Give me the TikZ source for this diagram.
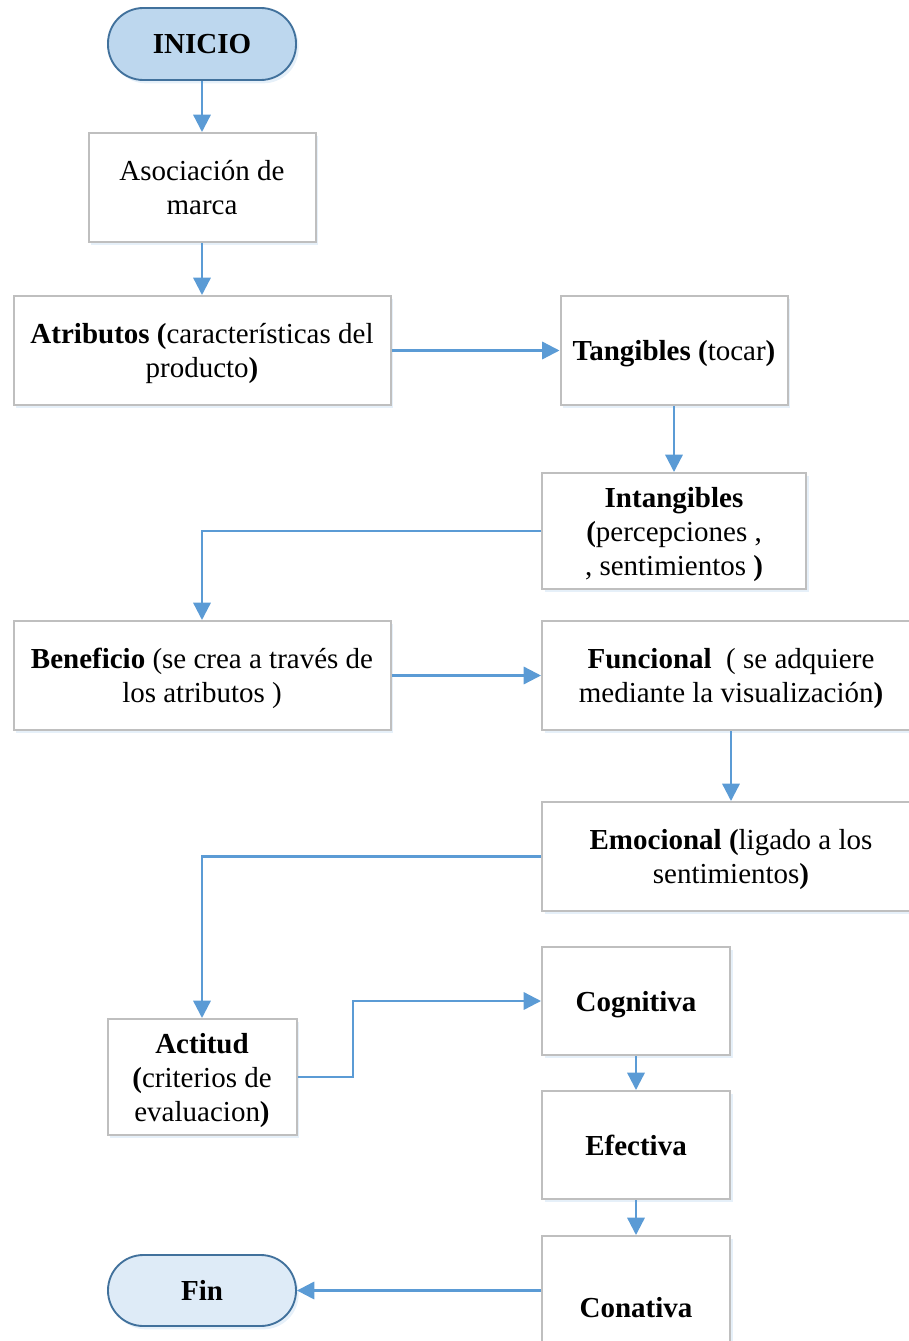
\documentclass[tikz,border=0pt]{standalone}
\usepackage{fontspec}
\setmainfont{Liberation Serif}
\usetikzlibrary{arrows.meta,shadows}
\definecolor{boxline}{HTML}{BFBFBF}
\definecolor{flow}{HTML}{5B9BD5}
\definecolor{termline}{HTML}{41719C}
\definecolor{startfill}{HTML}{BDD7EE}
\definecolor{endfill}{HTML}{DEEBF7}
\definecolor{shade}{HTML}{9DC3E6}
\begin{document}
\begin{tikzpicture}[x=0.75pt,y=-0.75pt,
  font=\fontsize{21.75}{25.5}\selectfont,
  stepbox/.style={draw=boxline, line width=1.5pt, fill=white, align=center,
    inner sep=0pt, text depth=0pt,
    drop shadow={shadow xshift=2pt, shadow yshift=-2.5pt, fill=shade, opacity=0.25}},
  term/.style={draw=termline, line width=1.4pt, align=center, inner sep=0pt,
    text depth=0pt, minimum width=141pt, rounded corners=26.5pt,
    drop shadow={shadow xshift=2pt, shadow yshift=-2.5pt, fill=shade, opacity=0.25}},
  flowline/.style={draw=flow, line width=1.75pt,
    -{Triangle[length=13pt,width=13pt]}}]

\useasboundingbox (0,0) rectangle (909,1341);
\clip (0,0) rectangle (909,1341);

% terminals
\node[term, fill=startfill, minimum height=54pt] (ini) at (202,44) {\textbf{INICIO}};
\node[term, fill=endfill, minimum height=53.25pt] (fin) at (202,1290.5) {\textbf{Fin}};

% process steps
\node[stepbox, minimum width=170.25pt, minimum height=81.75pt] (aso) at (202,187.5)
  {Asociación de\\marca};
\node[stepbox, minimum width=282.75pt, minimum height=81.75pt] (atr) at (202,350.5)
  {\textbf{Atributos (}características del\\producto\textbf{)}};
\node[stepbox, minimum width=170.25pt, minimum height=81.75pt] (tan) at (674,350.5)
  {\textbf{Tangibles (}tocar\textbf{)}};
\node[stepbox, minimum width=198pt, minimum height=87pt] (int) at (674,531)
  {\textbf{Intangibles}\\\textbf{(}percepciones ,\\, sentimientos \textbf{)}};
\node[stepbox, minimum width=282.75pt, minimum height=81.75pt] (ben) at (202,675.5)
  {\textbf{Beneficio} (se crea a través de\\los atributos )};
\node[stepbox, minimum width=283.5pt, minimum height=81.75pt] (fun) at (731,675.5)
  {\textbf{Funcional}\ \ ( se adquiere\\mediante la visualización\textbf{)}};
\node[stepbox, minimum width=283.5pt, minimum height=81.75pt] (emo) at (731,856.5)
  {\textbf{Emocional (}ligado a los\\sentimientos\textbf{)}};
\node[stepbox, minimum width=141.75pt, minimum height=87pt] (act) at (202,1077)
  {\textbf{Actitud}\\\textbf{(}criterios de\\evaluacion\textbf{)}};
\node[stepbox, minimum width=141pt, minimum height=81pt] (cog) at (636,1001)
  {\textbf{Cognitiva}};
\node[stepbox, minimum width=141pt, minimum height=81pt] (efe) at (636,1145)
  {\textbf{Efectiva}};
\node[stepbox, minimum width=141pt, minimum height=106.5pt] (con) at (636,1307)
  {\textbf{Conativa}};

% connectors
\coordinate (bend) at (353,1077);
\draw[flowline] (ini) -- (aso);
\draw[flowline] (aso) -- (atr);
\draw[flowline] (atr.east) -- (tan.west);
\draw[flowline] (tan.south) -- (int.north);
\draw[flowline] (int.west) -| (ben.north);
\draw[flowline] (ben.east) -- (fun.west);
\draw[flowline] (fun.south) -- (emo.north);
\draw[flowline] (emo.west) -| (act.north);
\draw[flowline] (act.east) -- (bend) |- (cog.west);
\draw[flowline] (cog) -- (efe);
\draw[flowline] (efe) -- (con);
\draw[flowline] (con.west |- fin.east) -- (fin.east);
\end{tikzpicture}
\end{document}
